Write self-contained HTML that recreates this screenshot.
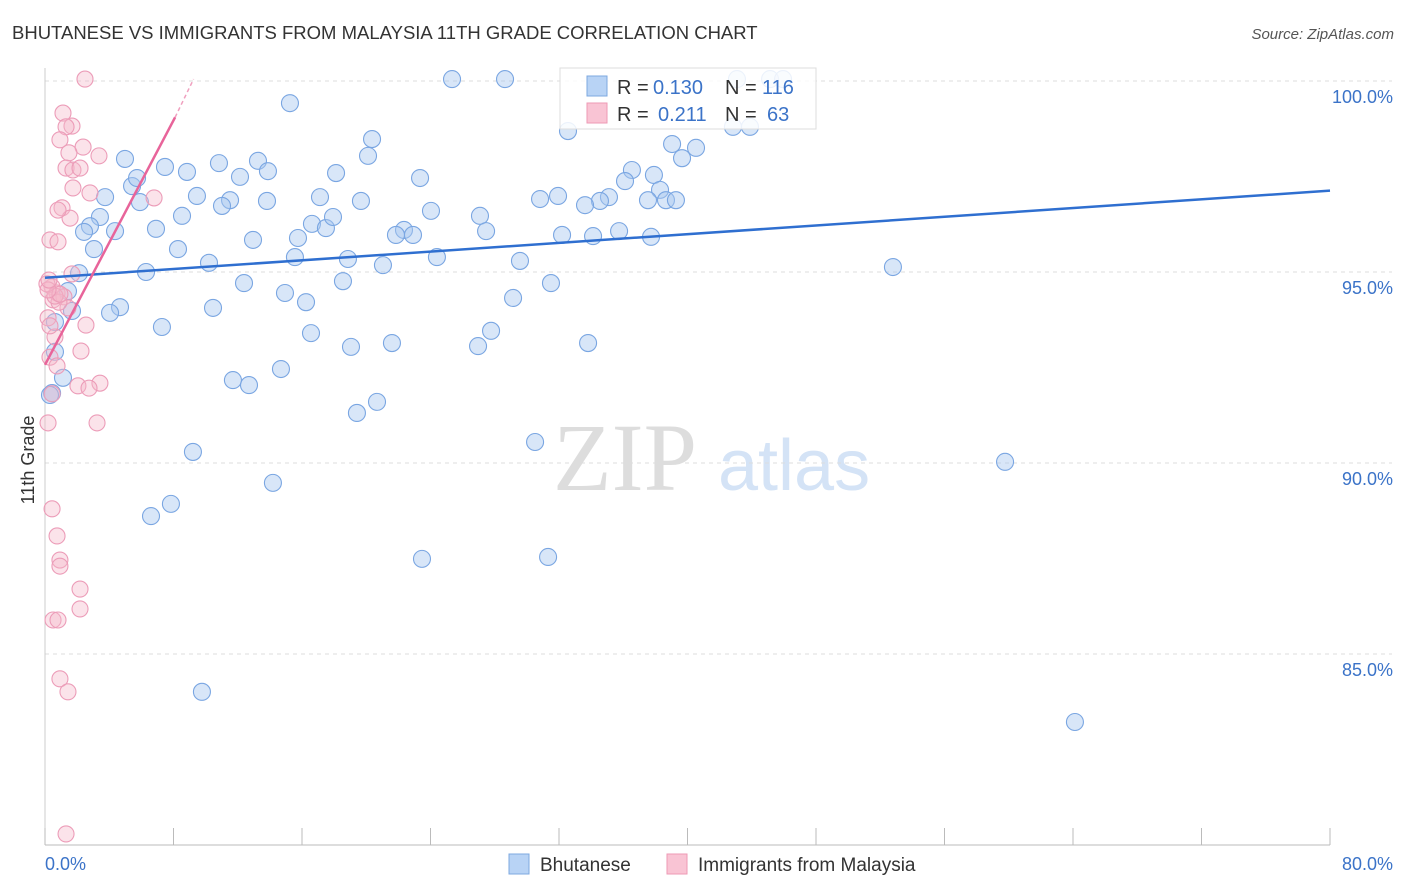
<!DOCTYPE html>
<html><head><meta charset="utf-8"><style>
body{margin:0;background:#fff;font-family:"Liberation Sans",sans-serif;}
svg{display:block}
</style></head><body>
<svg id="c" width="1406" height="892">
<text x="12" y="39" font-size="18.5" fill="#333">BHUTANESE VS IMMIGRANTS FROM MALAYSIA 11TH GRADE CORRELATION CHART</text>
<text x="1394" y="39" font-size="15" fill="#555" font-style="italic" text-anchor="end">Source: ZipAtlas.com</text>
<text x="34" y="460" font-size="18" fill="#333" transform="rotate(-90 34 460)" text-anchor="middle">11th Grade</text>
<g><text x="553" y="490" font-size="96" fill="#ddd" font-family="Liberation Serif">ZIP</text><text x="718" y="490" font-size="72" fill="#d4e3f6">atlas</text></g>
<g id="grid"></g><g id="marks"></g>
<g>
<rect x="560" y="68" width="256" height="61" fill="#fff" fill-opacity="0.85" stroke="#ddd"/>
<rect x="587" y="76" width="20" height="20" fill="#b8d3f5" stroke="#7ea8e0"/>
<rect x="587" y="103" width="20" height="20" fill="#f9c4d4" stroke="#ee9ab5"/>
<g font-size="20">
<text x="617" y="94" fill="#333">R =</text><text x="653" y="94" fill="#3b73c8">0.130</text>
<text x="725" y="94" fill="#333">N =</text><text x="762" y="94" fill="#3b73c8">116</text></g>
<g font-size="20">
<text x="617" y="121" fill="#333">R =</text><text x="658" y="121" fill="#3b73c8">0.211</text>
<text x="725" y="121" fill="#333">N =</text><text x="767" y="121" fill="#3b73c8">63</text></g>
</g>
<g>
<rect x="509" y="854" width="20" height="20" fill="#b8d3f5" stroke="#7ea8e0"/>
<text x="540" y="871" font-size="19" fill="#333">Bhutanese</text>
<rect x="667" y="854" width="20" height="20" fill="#f9c4d4" stroke="#ee9ab5"/>
<text x="698" y="871" font-size="19" fill="#333">Immigrants from Malaysia</text>
</g>
</svg>
<script>
const yTicks=[100,95,90,85];
const yTickLabels=["100.0%","95.0%","90.0%","85.0%"];
const xTickLabels=["0.0%","80.0%"];
const bluePx=[[452,79],[505,79],[737,79],[770,79],[783,79],[290,103],[372,139],[568,131],[733,127],[750,127],[672,144],[696,148],[682,158],[125,159],[165,167],[219,163],[258,161],[187,172],[240,177],[268,171],[336,173],[368,156],[420,178],[132,186],[137,178],[105,197],[197,196],[230,200],[222,206],[267,201],[320,197],[361,201],[632,170],[625,181],[654,175],[660,190],[648,200],[666,200],[676,200],[609,197],[600,201],[585,205],[540,199],[558,196],[100,217],[140,202],[182,216],[90,226],[115,231],[84,232],[156,229],[253,240],[298,238],[312,224],[326,228],[333,217],[431,211],[480,216],[486,231],[404,230],[396,235],[413,235],[562,235],[593,236],[619,231],[651,237],[94,249],[178,249],[146,272],[209,263],[295,257],[348,259],[383,265],[437,257],[520,261],[893,267],[79,273],[244,283],[343,281],[551,283],[285,293],[306,302],[513,298],[68,291],[120,307],[110,313],[213,308],[72,311],[162,327],[311,333],[491,331],[478,346],[392,343],[351,347],[588,343],[55,322],[55,352],[63,378],[233,380],[249,385],[281,369],[377,402],[357,413],[535,442],[193,452],[1005,462],[273,483],[171,504],[151,516],[422,559],[548,557],[202,692],[1075,722],[52,393],[50,395]];
const pinkPx=[[85,79],[63,113],[72,126],[66,127],[60,140],[83,147],[69,153],[99,156],[66,168],[73,170],[80,168],[73,188],[90,193],[154,198],[62,208],[70,218],[58,210],[50,240],[58,242],[72,274],[52,287],[57,293],[53,300],[64,297],[68,308],[59,302],[48,318],[86,325],[55,337],[81,351],[50,357],[57,366],[100,383],[78,386],[89,388],[52,394],[48,423],[97,423],[52,509],[57,536],[60,560],[60,566],[80,589],[80,609],[53,620],[58,620],[60,679],[68,692],[66,834],[50,326],[55,296],[60,294],[47,284],[48,290],[49,280]];
const blueX=bluePx.map(p=>+((p[0]-45)/1285*80).toFixed(2)), blueY=bluePx.map(p=>+(100-(p[1]-81)/38.2).toFixed(2));
const pinkX=pinkPx.map(p=>+((p[0]-45)/1285*80).toFixed(2)), pinkY=pinkPx.map(p=>+(100-(p[1]-81)/38.2).toFixed(2));
const blueTrend=[[0,94.85],[80,97.13]];
const pinkTrend=[[0,92.57],[8.1,99.05],[9.25,100.05]];
const X=v=>45+v/80*1285, Y=v=>81+(100-v)*38.2;
const NS="http://www.w3.org/2000/svg";
function mk(tag,attrs,parent){const e=document.createElementNS(NS,tag);for(const k in attrs)e.setAttribute(k,attrs[k]);parent.appendChild(e);return e;}
const g=document.getElementById('grid'), m=document.getElementById('marks');
yTicks.forEach((t,i)=>{
 const l=mk('line',{x1:45,x2:1392,y1:Y(t),y2:Y(t),stroke:'#ddd','stroke-dasharray':'4,4'},g);
 
 
 const tx=mk('text',{x:1393,y:Y(t)+22,'font-size':18,fill:'#3b73c8','text-anchor':'end'},g);tx.textContent=yTickLabels[i];
 
 
});
const ax=mk('line',{x1:45,x2:1330,y1:845,y2:845,stroke:'#bbb'},g);


const ay=mk('line',{x1:45,x2:45,y1:68,y2:845,stroke:'#ccc'},g);


for(let k=0;k<=10;k++){const t=mk('line',{x1:X(k*8),x2:X(k*8),y1:828,y2:845,stroke:'#bbb'},g);
 
 }
[[0,'start',45],[80,'end',1393]].forEach((d,i)=>{const t=mk('text',{x:d[2],y:870,'font-size':18,fill:'#3b73c8','text-anchor':d[1]},g);t.textContent=xTickLabels[i];
 
 });
blueX.forEach((x,i)=>{const c=mk('circle',{cx:X(x),cy:Y(blueY[i]),r:8.5,fill:'#a9c8f0','fill-opacity':0.45,stroke:'#7aa6e2','stroke-width':1.1},m);
 
 });
pinkX.forEach((x,i)=>{const c=mk('circle',{cx:X(x),cy:Y(pinkY[i]),r:8,fill:'#f5b8cb','fill-opacity':0.4,stroke:'#ec9cb8','stroke-width':1.1},m);
 
 });
const bl=mk('line',{x1:X(blueTrend[0][0]),y1:Y(blueTrend[0][1]),x2:X(blueTrend[1][0]),y2:Y(blueTrend[1][1]),stroke:'#2f6fd0','stroke-width':2.5},m);


const pl=mk('line',{x1:X(pinkTrend[0][0]),y1:Y(pinkTrend[0][1]),x2:X(pinkTrend[1][0]),y2:Y(pinkTrend[1][1]),stroke:'#e8649a','stroke-width':2.5},m);


const pd=mk('line',{x1:X(pinkTrend[1][0]),y1:Y(pinkTrend[1][1]),x2:X(pinkTrend[2][0]),y2:Y(pinkTrend[2][1]),stroke:'#f0a0bf','stroke-width':1.5,'stroke-dasharray':'4,3'},m);


</script>
</body></html>
